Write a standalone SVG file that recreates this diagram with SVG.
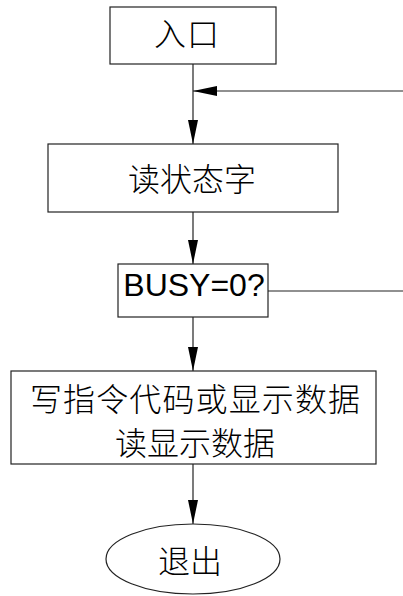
<svg xmlns="http://www.w3.org/2000/svg" width="403" height="596" viewBox="0 0 403 596">
<defs>
<style>
.box{fill:#fff;stroke:#222;stroke-width:1.2}
.cn{font-family:"Noto Sans CJK SC","Noto Sans",sans-serif;font-size:32px;font-weight:300;fill:#000;text-anchor:middle}
.en{font-family:"Liberation Sans",Arial,sans-serif;font-size:32px;fill:#000;text-anchor:middle}
.ln{stroke:#222;stroke-width:1.2;fill:none}
</style>
<marker id="ah" markerUnits="userSpaceOnUse" markerWidth="26" markerHeight="12" refX="24" refY="5" orient="auto">
<path d="M0,0 L24,5 L0,10 Z" fill="#000"/>
</marker>
</defs>
<rect width="403" height="596" fill="#fff"/>
<g id="connectors">
<line class="ln" x1="193" y1="64" x2="193" y2="144" marker-end="url(#ah)"/>
<line class="ln" x1="403" y1="91" x2="193" y2="91" marker-end="url(#ah)"/>
<line class="ln" x1="193" y1="212" x2="193" y2="264" marker-end="url(#ah)"/>
<line class="ln" x1="268" y1="291" x2="403" y2="291"/>
<line class="ln" x1="193" y1="317" x2="193" y2="371" marker-end="url(#ah)"/>
<line class="ln" x1="193" y1="464" x2="193" y2="524" marker-end="url(#ah)"/>
</g>
<g id="entry">
<rect class="box" x="110" y="7" width="166" height="57"/>
<text class="cn" x="187" y="46" letter-spacing="1">入口</text>
</g>
<g id="read-status">
<rect class="box" x="48" y="144" width="290" height="68"/>
<text class="cn" x="192" y="191">读状态字</text>
</g>
<g id="busy">
<rect class="box" x="118" y="264" width="150" height="53"/>
<text class="en" x="194" y="296">BUSY=0?</text>
</g>
<g id="write">
<rect class="box" x="11" y="371" width="365" height="93"/>
<text class="cn" x="195" y="411" textLength="330" lengthAdjust="spacing">写指令代码或显示数据</text>
<text class="cn" x="195" y="455">读显示数据</text>
</g>
<g id="exit">
<ellipse class="box" cx="193" cy="559" rx="87" ry="35"/>
<text class="cn" x="190" y="573">退出</text>
</g>
</svg>
